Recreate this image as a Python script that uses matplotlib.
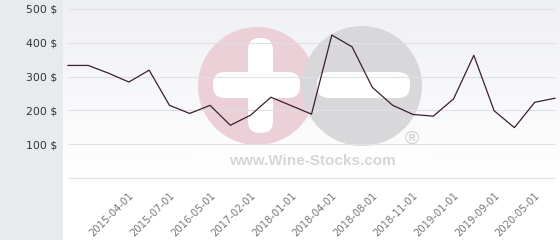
import numpy as np
import matplotlib.pyplot as plt
from matplotlib.patches import Rectangle, Circle, FancyBboxPatch
from matplotlib.transforms import Affine2D

# price history (one value per category on the x axis)
prices = [333, 333, 310, 284, 319, 215, 191, 215, 156, 186, 239, 214, 189,
          423, 388, 268, 215, 188, 183, 234, 363, 199, 149, 224, 236]
tick_labels = ['2015-04-01', '2015-07-01', '2016-05-01', '2017-02-01',
               '2018-01-01', '2018-04-01', '2018-08-01', '2018-11-01',
               '2019-01-01', '2019-09-01', '2020-05-01']
tick_index = [3, 5, 7, 9, 11, 13, 15, 17, 19, 21, 23]
y_ticks = [100, 200, 300, 400, 500]
grid_values = [0, 100, 200, 300, 400, 500]

W, H = 560, 240
fig = plt.figure(figsize = (W / 100, H / 100), dpi = 100)
fig.patch.set_facecolor('white')

# left grey strip
fig.add_artist(Rectangle((0, 0), 63 / W, 1, transform = fig.transFigure,
                         facecolor = '#e8ebee', edgecolor = 'none', zorder = 0))

# panel
left, top, bottom = 63, 0, 178
ax = fig.add_axes([left / W, 1 - bottom / H, (W - left) / W, (bottom - top) / H])
x = np.arange(len(prices))
px_per_cat = (555 - 68) / (len(prices) - 1)
ax.set_xlim(-5 / px_per_cat, len(prices) - 1 + 5 / px_per_cat)
ax.set_ylim(0, 178 / 0.338)
for s in ax.spines.values():
    s.set_visible(False)

# background gradient
grad = np.linspace(0, 1, 100).reshape(-1, 1)
top_c = np.array([239, 240, 244]) / 255
bot_c = np.array([255, 255, 255]) / 255
img = top_c[None, None, :] * (1 - grad[:, :, None]) + bot_c[None, None, :] * grad[:, :, None]
ax.imshow(img, extent = (0, 1, 0, 1), transform = ax.transAxes,
          aspect = 'auto', zorder = 0, origin = 'upper')

# watermark, in pixel coordinates from the top-left corner
pix = Affine2D().scale(1 / W, -1 / H).translate(0, 1) + fig.transFigure
ax.add_patch(Rectangle((197, 143), 233, 35, transform = pix,
                       facecolor = 'white', alpha = 0.5, edgecolor = 'none', zorder = 1))
ax.add_patch(Circle((257, 86), 59, transform = pix,
                    facecolor = '#ebd0d8', edgecolor = 'none', zorder = 1))
ax.add_patch(Circle((362, 86), 60, transform = pix,
                    facecolor = '#d8d8da', edgecolor = 'none', zorder = 1))
for (bx, by, bw, bh) in [(248, 38, 25, 95), (213, 72, 87, 26), (317, 72, 93, 26)]:
    ax.add_patch(FancyBboxPatch((bx, by), bw, bh, transform = pix,
                                boxstyle = 'round,pad=0,rounding_size=12',
                                facecolor = 'white', edgecolor = 'none', zorder = 1))
ax.text(312 / W, 1 - 161 / H, 'www.Wine-Stocks.com', transform = fig.transFigure,
        ha = 'center', va = 'center', fontsize = 11, fontweight = 'bold',
        family = 'Liberation Sans', color = '#d6d6d9', zorder = 1)
ax.text(412 / W, 1 - 139 / H, '\u00ae', transform = fig.transFigure,
        ha = 'center', va = 'center', fontsize = 14,
        family = 'Liberation Sans', color = '#cfcfd2', zorder = 1)

# grid lines
ax.hlines(grid_values, 0, len(prices) - 1, colors = '#dfe0e3',
          linewidth = 0.8, zorder = 2, clip_on = False)

# price line
ax.plot(x, prices, color = '#3b1f2d', linewidth = 0.9, zorder = 3)

# ticks
ax.set_yticks(y_ticks)
ax.set_yticklabels([str(v) + ' $' for v in y_ticks])
ax.set_xticks(tick_index)
ax.set_xticklabels(tick_labels, rotation = 45, ha = 'right',
                   rotation_mode = 'anchor')
ax.tick_params(axis = 'y', length = 0, pad = 4, labelsize = 7.8, labelcolor = '#333333')
ax.tick_params(axis = 'x', length = 0, pad = 9, labelsize = 7.2, labelcolor = '#777777')

fig.savefig('out.png', dpi = 100)
